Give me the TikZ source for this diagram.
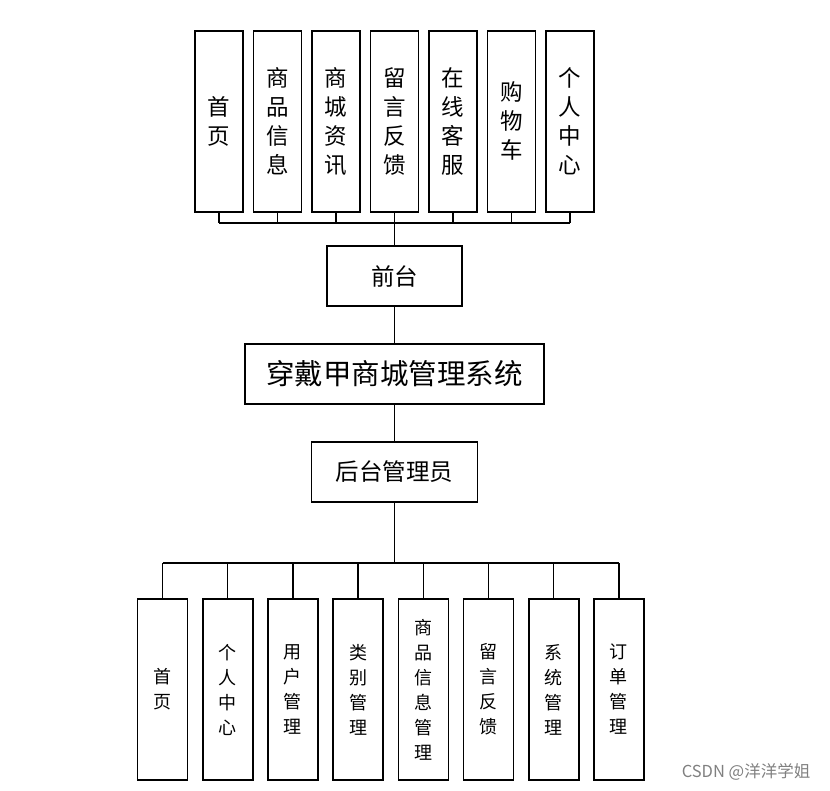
\documentclass[tikz,border=0pt]{standalone}
\usepackage{fontspec}
\setmainfont{Noto Sans CJK SC}
\newfontfamily\cjk{Noto Sans CJK SC}
\begin{document}
\begin{tikzpicture}[x=1pt,y=-1pt,
  box/.style={draw=black,line width=1.6pt,fill=white,inner sep=0pt,align=center},
  topbox/.style={box,minimum width=48pt,minimum height=181pt,font=\cjk\fontsize{22.5}{29}\selectfont},
  botbox/.style={box,minimum width=50pt,minimum height=181pt,font=\cjk\fontsize{18}{25}\selectfont},
  midbox/.style={box,minimum height=60pt,font=\cjk\fontsize{23.5}{28}\selectfont},
  link/.style={draw=black,line width=1.5pt}]
\useasboundingbox (0,0) rectangle (830,790);
% top boxes
\foreach \i/\x/\t in {1/219/{首\\页},2/277.5/{商\\品\\信\\息},3/336/{商\\城\\资\\讯},4/394.5/{留\\言\\反\\馈},5/453/{在\\线\\客\\服},6/511.5/{购\\物\\车},7/570/{个\\人\\中\\心}}
  \node[topbox] (t\i) at (\x,121.3) {\t};
\node[midbox,minimum width=135pt] (front) at (394.5,276) {前台};
\node[midbox,minimum width=299pt,font=\cjk\fontsize{28.5}{32}\selectfont] (sys) at (394.5,374) {穿戴甲商城管理系统};
\node[midbox,minimum width=166pt] (admin) at (394.5,472) {后台管理员};
% bottom boxes
\foreach \i/\x/\t in {1/162.5/{首\\页},2/227.7/{个\\人\\中\\心},3/292.9/{用\\户\\管\\理},4/358.1/{类\\别\\管\\理},5/423.3/{商\\品\\信\\息\\管\\理},6/488.5/{留\\言\\反\\馈},7/553.7/{系\\统\\管\\理},8/618.9/{订\\单\\管\\理}}
  \node[botbox] (b\i) at (\x,689.5) {\t};
% top connectors
\coordinate (topbus) at (0,223);
\foreach \i in {1,...,7} \draw[link] (t\i.south) -- (t\i.south |- topbus);
\draw[link] (t1.south |- topbus) -- (t7.south |- topbus);
\draw[link] (t4.south |- topbus) -- (front.north);
\draw[link] (front.south) -- (sys.north);
\draw[link] (sys.south) -- (admin.north);
% bottom connectors
\coordinate (botbus) at (0,563);
\draw[link] (admin.south) -- (admin.south |- botbus);
\draw[link] (b1.north |- botbus) -- (b8.north |- botbus);
\foreach \i in {1,...,8} \draw[link] (b\i.north |- botbus) -- (b\i.north);
\node[font=\cjk\fontsize{16.5}{18}\selectfont,text=black!50] (wm) at (746,772) {CSDN @洋洋学姐};
\end{tikzpicture}
\end{document}
